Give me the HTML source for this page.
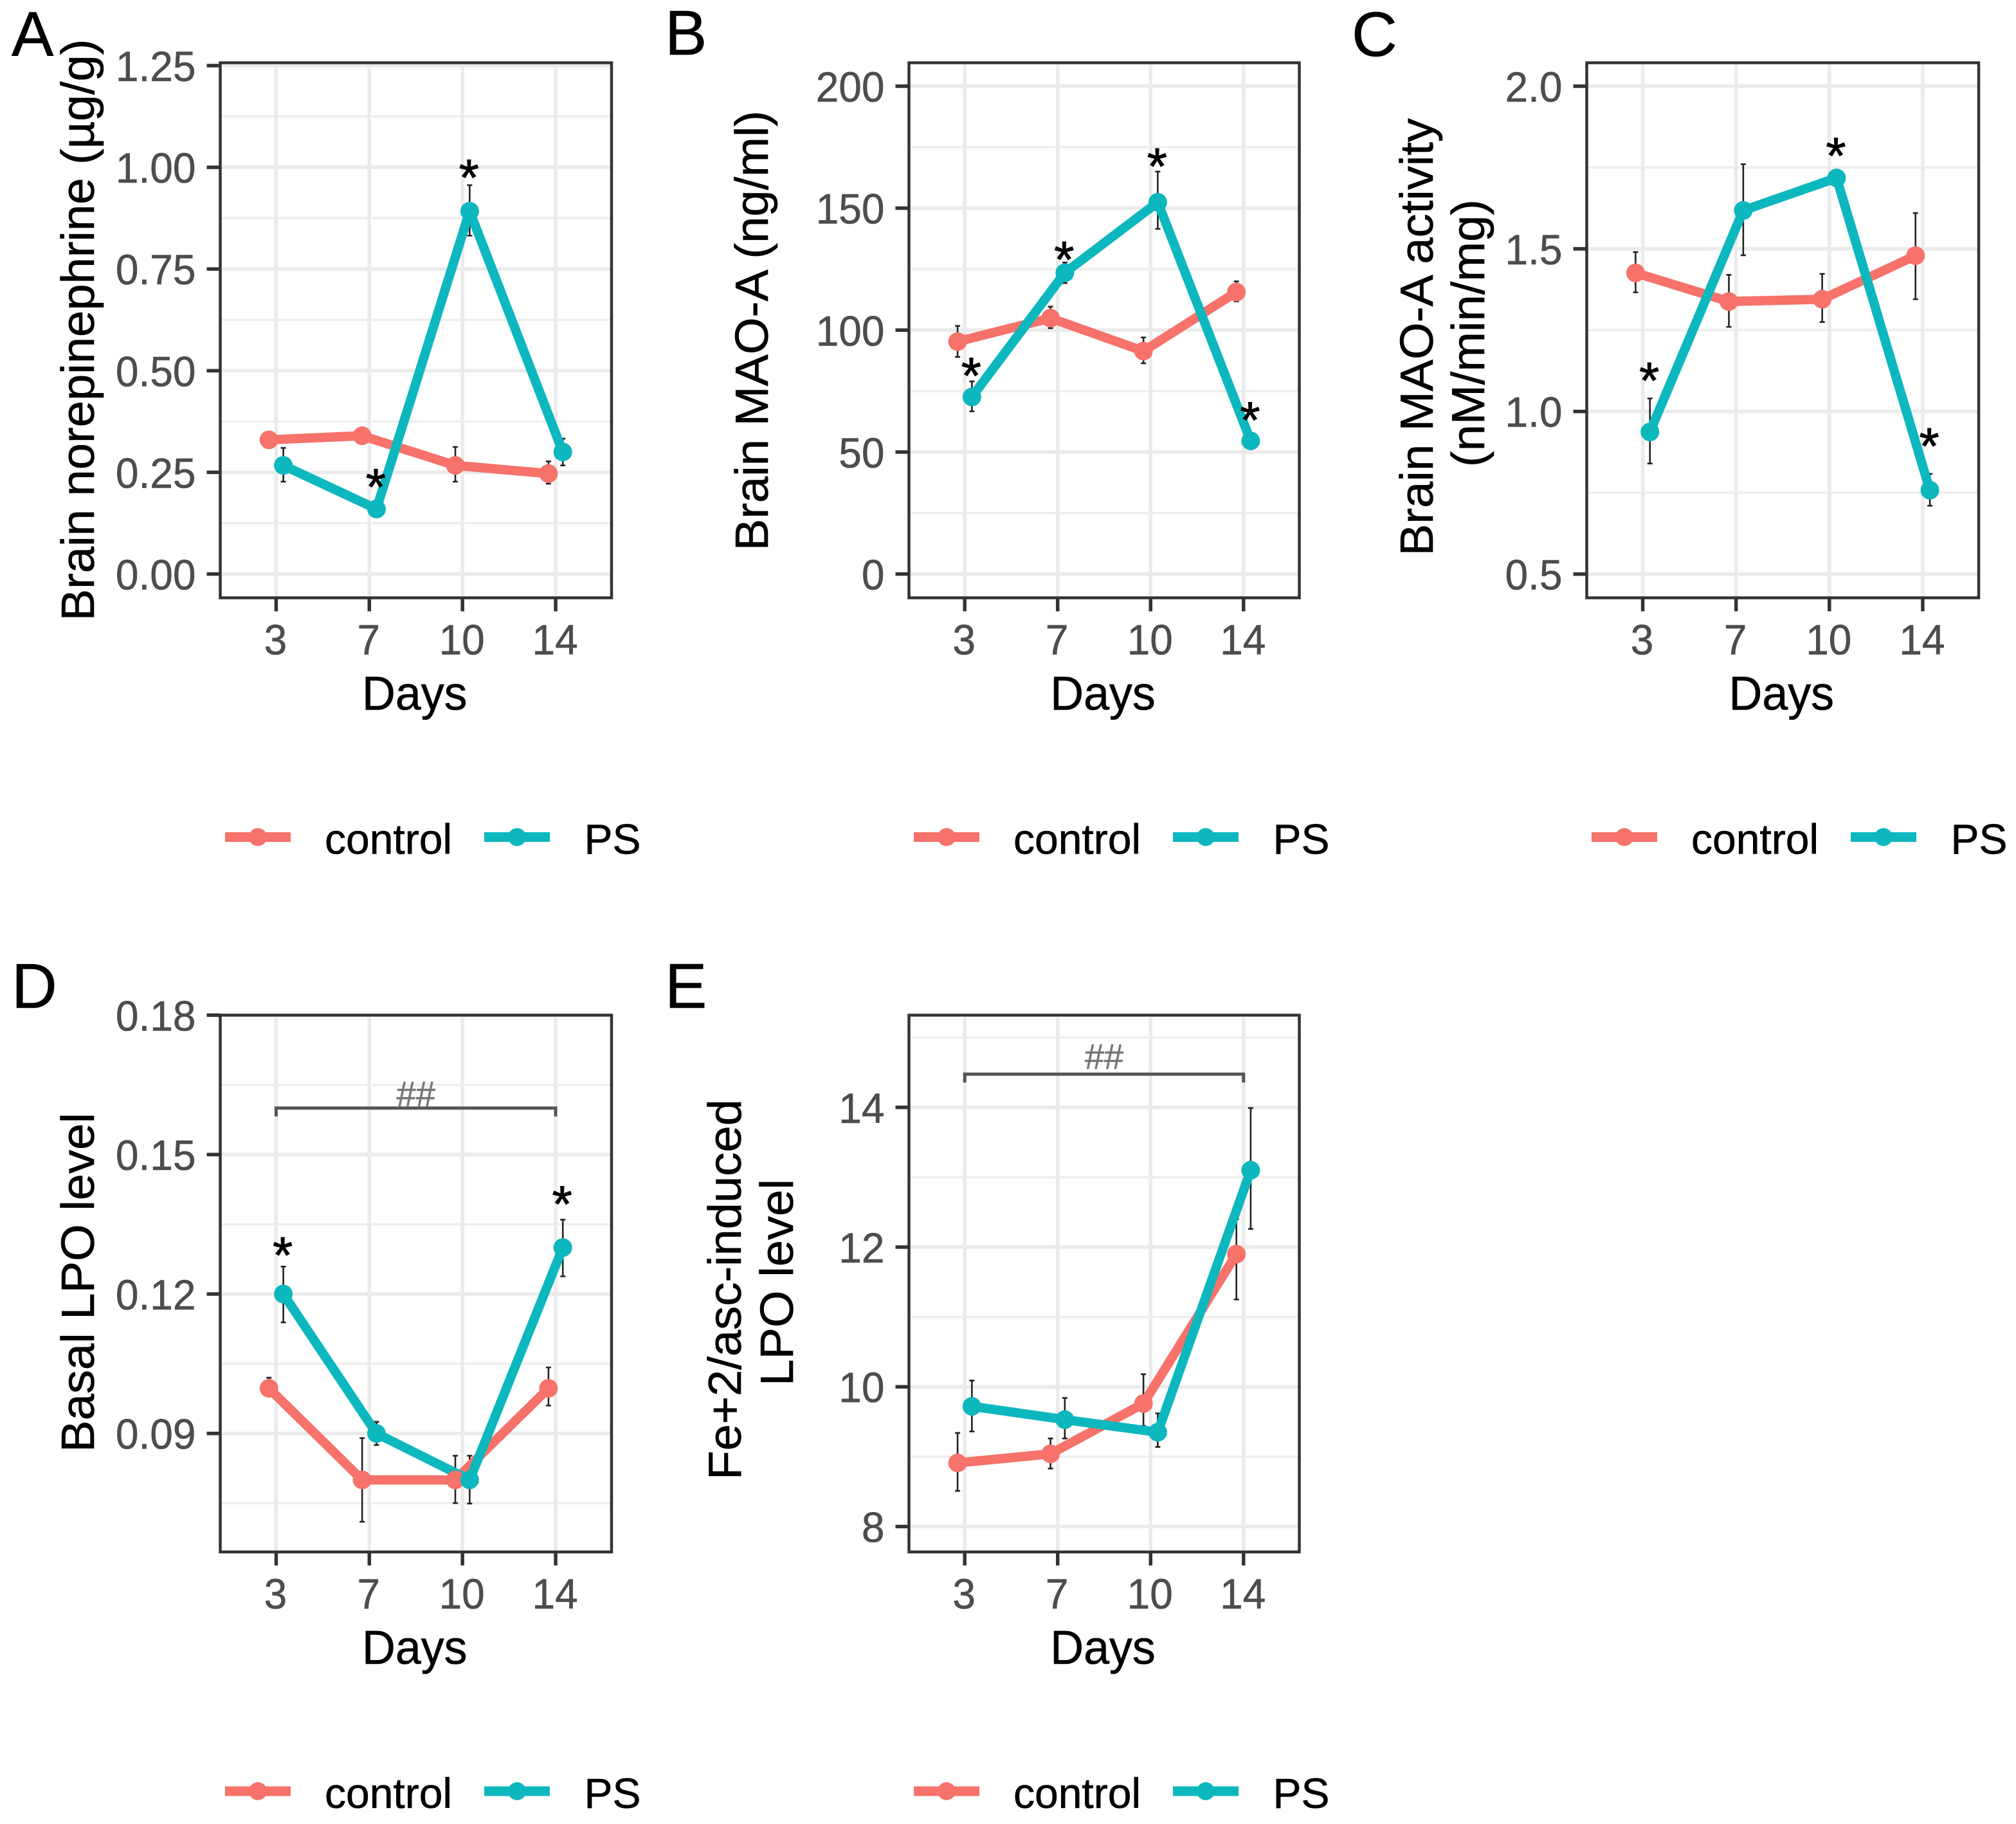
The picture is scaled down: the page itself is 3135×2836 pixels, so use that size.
<!DOCTYPE html>
<html lang="en">
<head>
<meta charset="utf-8">
<title>Brain neurochemistry panels</title>
<style>
html,body{margin:0;padding:0;background:#fff;}
#figure{display:block;width:3135px;height:2836px;font-family:"Liberation Sans",Arial,sans-serif;}
</style>
</head>
<body>
<svg id="figure" xmlns="http://www.w3.org/2000/svg" width="3135" height="2836" viewBox="0 0 3135 2836"></svg>
<script>
// ---------- shared data ----------
const categories = ['3', '7', '10', '14'];
const seriesNames = ['control', 'PS'];

// ---------- panel A ----------
const aControl = [0.33, 0.34, 0.267, 0.247];
const aControlLow = [0.325, 0.32, 0.227, 0.222];
const aControlHigh = [0.335, 0.36, 0.3125, 0.277];
const aPS = [0.267, 0.16, 0.892, 0.30];
const aPSLow = [0.227, 0.15, 0.832, 0.267];
const aPSHigh = [0.31, 0.17, 0.956, 0.333];
const aTicks = [0, 0.25, 0.5, 0.75, 1, 1.25];
const aTickLabels = ['0.00', '0.25', '0.50', '0.75', '1.00', '1.25'];
const aMinorTicks = [0.125, 0.375, 0.625, 0.875, 1.125];
const aStarDays = [1, 2];
const aStarValues = [0.237, 0.998];

// ---------- panel B ----------
const bControl = [95.3, 104.9, 91.4, 115.6];
const bControlLow = [89, 100.8, 86.4, 111.8];
const bControlHigh = [101.7, 109.6, 97, 120];
const bPS = [72.6, 123.5, 152.4, 54.6];
const bPSLow = [66.7, 119.3, 141.5, 53.5];
const bPSHigh = [79, 127.7, 165, 55.7];
const bTicks = [0, 50, 100, 150, 200];
const bTickLabels = ['0', '50', '100', '150', '200'];
const bMinorTicks = [25, 75, 125, 175];
const bStarDays = [0, 1, 2, 3];
const bStarValues = [85.2, 132.8, 171, 67];

// ---------- panel C ----------
const cControl = [1.426, 1.338, 1.345, 1.479];
const cControlLow = [1.366, 1.26, 1.275, 1.345];
const cControlHigh = [1.49, 1.42, 1.423, 1.61];
const cPS = [0.937, 1.618, 1.718, 0.758];
const cPSLow = [0.84, 1.48, 1.71, 0.71];
const cPSHigh = [1.04, 1.76, 1.726, 0.808];
const cTicks = [0.5, 1, 1.5, 2];
const cTickLabels = ['0.5', '1.0', '1.5', '2.0'];
const cMinorTicks = [0.75, 1.25, 1.75];
const cStarDays = [0, 2, 3];
const cStarValues = [1.124, 1.815, 0.922];

// ---------- panel D ----------
const dControl = [0.0997, 0.08, 0.08, 0.0997];
const dControlLow = [0.098, 0.071, 0.075, 0.096];
const dControlHigh = [0.102, 0.089, 0.0852, 0.1042];
const dPS = [0.12, 0.09, 0.08, 0.13];
const dPSLow = [0.1139, 0.0875, 0.0749, 0.1238];
const dPSHigh = [0.1259, 0.0925, 0.0852, 0.136];
const dTicks = [0.09, 0.12, 0.15, 0.18];
const dTickLabels = ['0.09', '0.12', '0.15', '0.18'];
const dMinorTicks = [0.075, 0.105, 0.135, 0.165];
const dStarDays = [0, 3];
const dStarValues = [0.1304, 0.1414];
const dBracketValue = [0.16];

// ---------- panel E ----------
const eControl = [8.91, 9.04, 9.76, 11.9];
const eControlLow = [8.51, 8.83, 9.44, 11.25];
const eControlHigh = [9.34, 9.26, 10.18, 12.4];
const ePS = [9.72, 9.53, 9.35, 13.1];
const ePSLow = [9.36, 9.26, 9.14, 12.26];
const ePSHigh = [10.09, 9.84, 9.62, 13.99];
const eTicks = [8, 10, 12, 14];
const eTickLabels = ['8', '10', '12', '14'];
const eMinorTicks = [9, 11, 13, 15];
const eStarDays = [];
const eStarValues = [];
const eBracketValue = [14.475];

// ---------- layout ----------
const panels = [
  {id:'a', letter:'A', letterX:18, letterY:87, left:342.5, right:951, top:97.6, bottom:929.5, yMin:-0.0585, yMax:1.257,
   control:aControl, controlLow:aControlLow, controlHigh:aControlHigh, ps:aPS, psLow:aPSLow, psHigh:aPSHigh,
   ticks:aTicks, tickLabels:aTickLabels, minor:aMinorTicks, starDays:aStarDays, starValues:aStarValues, bracket:null, hashGap:0,
   titles:[{text:'Brain norepinephrine (µg/g)', x:146, y:513}]},
  {id:'b', letter:'B', letterX:1034, letterY:85, left:1413.5, right:2020.5, top:97.6, bottom:929.5, yMin:-9.75, yMax:209.6,
   control:bControl, controlLow:bControlLow, controlHigh:bControlHigh, ps:bPS, psLow:bPSLow, psHigh:bPSHigh,
   ticks:bTicks, tickLabels:bTickLabels, minor:bMinorTicks, starDays:bStarDays, starValues:bStarValues, bracket:null, hashGap:0,
   titles:[{text:'Brain MAO-A (ng/ml)', x:1194, y:514}]},
  {id:'c', letter:'C', letterX:2102, letterY:87, left:2467.5, right:3077, top:97.6, bottom:929.5, yMin:0.427, yMax:2.072,
   control:cControl, controlLow:cControlLow, controlHigh:cControlHigh, ps:cPS, psLow:cPSLow, psHigh:cPSHigh,
   ticks:cTicks, tickLabels:cTickLabels, minor:cMinorTicks, starDays:cStarDays, starValues:cStarValues, bracket:null, hashGap:0,
   titles:[{text:'Brain MAO-A activity', x:2228, y:524},{text:'(nM/min/mg)', x:2308, y:518}]},
  {id:'d', letter:'D', letterX:18, letterY:1567, left:342.5, right:951, top:1578.4, bottom:2413, yMin:0.0645, yMax:0.18,
   control:dControl, controlLow:dControlLow, controlHigh:dControlHigh, ps:dPS, psLow:dPSLow, psHigh:dPSHigh,
   ticks:dTicks, tickLabels:dTickLabels, minor:dMinorTicks, starDays:dStarDays, starValues:dStarValues, bracket:dBracketValue, hashGap:3,
   titles:[{text:'Basal LPO level', x:146, y:1994}]},
  {id:'e', letter:'E', letterX:1034, letterY:1567, left:1413.5, right:2020.5, top:1578.4, bottom:2413, yMin:7.636, yMax:15.32,
   control:eControl, controlLow:eControlLow, controlHigh:eControlHigh, ps:ePS, psLow:ePSLow, psHigh:ePSHigh,
   ticks:eTicks, tickLabels:eTickLabels, minor:eMinorTicks, starDays:eStarDays, starValues:eStarValues, bracket:eBracketValue, hashGap:8,
   titles:[{text:'Fe+2/asc-induced', x:1152, y:2005},{text:'LPO level', x:1233, y:1994}]}
];

const RED = '#f6726a';
const TEAL = '#0db7be';
const SVGNS = 'http://www.w3.org/2000/svg';
const root = document.getElementById('figure');

function make(parent, tag, attrs, text) {
  const el = document.createElementNS(SVGNS, tag);
  for (const k in attrs) el.setAttribute(k, attrs[k]);
  if (text !== undefined) el.textContent = text;
  parent.appendChild(el);
  return el;
}
function hText(parent, str, x, y, size, fill, anchor, sx) {
  return make(parent, 'text', {
    transform: 'translate(' + x + ' ' + y + ') scale(' + sx + ' 1)',
    'font-size': size, fill: fill, stroke: fill, 'stroke-width': 0.6, 'text-anchor': anchor
  }, str);
}

panels.forEach(function (p) {
  const g = make(root, 'g', {});
  
  

  const unit = (p.right - p.left) / 4.2;
  const xCat = function (i) { return p.left + (0.6 + i) * unit; };
  const DODGE = 0.077;
  const xControl = function (i) { return xCat(i) - DODGE * unit; };
  const xPS = function (i) { return xCat(i) + DODGE * unit; };
  const yScale = function (v) { return p.bottom - (v - p.yMin) / (p.yMax - p.yMin) * (p.bottom - p.top); };

  // panel label
  const letter = make(g, 'text', {x: p.letterX, y: p.letterY, 'font-size': 98, fill: '#000', stroke: '#000', 'stroke-width': 0.6}, p.letter);
  
  

  // grid
  p.minor.forEach(function (v) {
    const line = make(g, 'line', {x1: p.left, x2: p.right, y1: yScale(v), y2: yScale(v), stroke: '#eeeeee', 'stroke-width': 3.5});
    
    
  });
  p.ticks.forEach(function (v) {
    const line = make(g, 'line', {x1: p.left, x2: p.right, y1: yScale(v), y2: yScale(v), stroke: '#ebebeb', 'stroke-width': 5.5});
    
    
  });
  categories.forEach(function (c, i) {
    const line = make(g, 'line', {x1: xCat(i), x2: xCat(i), y1: p.top, y2: p.bottom, stroke: '#ebebeb', 'stroke-width': 5.5});
    
    
  });

  // bracket
  if (p.bracket) {
    const by = yScale(p.bracket[0]);
    const bx1 = xCat(0);
    const bx2 = xCat(3);
    const bracket = make(g, 'path', {d: 'M' + bx1 + ' ' + (by + 13) + 'V' + by + 'H' + bx2 + 'V' + (by + 13), fill: 'none', stroke: '#555555', 'stroke-width': 5});
    
    
    const hash = hText(g, '##', (bx1 + bx2) / 2, by - p.hashGap, 56, '#777777', 'middle', 0.97);
    
    
  }

  // error bars
  [[p.controlLow, p.controlHigh, xControl, 'control'], [p.psLow, p.psHigh, xPS, 'ps']].forEach(function (s) {
    s[0].forEach(function (low, i) {
      const x = s[2](i);
      const yl = yScale(low);
      const yh = yScale(s[1][i]);
      const bar = make(g, 'path', {
        d: 'M' + x + ' ' + yl + 'V' + yh + 'M' + (x - 4) + ' ' + yl + 'H' + (x + 4) + 'M' + (x - 4) + ' ' + yh + 'H' + (x + 4),
        fill: 'none', stroke: '#222222', 'stroke-width': 2.6
      });
      
      
    });
  });

  // series
  [[p.control, xControl, RED, 'control'], [p.ps, xPS, TEAL, 'ps']].forEach(function (s) {
    const pts = s[0].map(function (v, i) { return s[1](i) + ',' + yScale(v); }).join(' ');
    const line = make(g, 'polyline', {points: pts, fill: 'none', stroke: s[2], 'stroke-width': 14.5, 'stroke-linejoin': 'round'});
    
    
  });
  [[p.control, xControl, RED, 'control'], [p.ps, xPS, TEAL, 'ps']].forEach(function (s) {
    s[0].forEach(function (v, i) {
      const pt = make(g, 'circle', {cx: s[1](i), cy: yScale(v), r: 14.5, fill: s[2]});
      
      
    });
  });

  // asterisks
  p.starDays.forEach(function (d, i) {
    const star = make(g, 'text', {x: xPS(d) - 1, y: yScale(p.starValues[i]) + 42, 'font-size': 80, fill: '#000', stroke: '#000', 'stroke-width': 1, 'text-anchor': 'middle'}, '*');
    
    
  });

  // border
  const border = make(g, 'rect', {x: p.left, y: p.top, width: p.right - p.left, height: p.bottom - p.top, fill: 'none', stroke: '#333333', 'stroke-width': 4.5});
  
  

  // y axis
  p.ticks.forEach(function (v, i) {
    const tick = make(g, 'line', {x1: p.left - 21, x2: p.left, y1: yScale(v), y2: yScale(v), stroke: '#333333', 'stroke-width': 5.5});
    
    
    const label = hText(g, p.tickLabels[i], p.left - 38, yScale(v) + 24, 66, '#4d4d4d', 'end', 0.97);
    
    
  });

  // x axis
  categories.forEach(function (c, i) {
    const tick = make(g, 'line', {x1: xCat(i), x2: xCat(i), y1: p.bottom, y2: p.bottom + 21, stroke: '#333333', 'stroke-width': 5.5});
    
    
    const label = hText(g, c, xCat(i) - 1, p.bottom + 88, 66, '#4d4d4d', 'middle', 0.97);
    
    
  });
  const xTitle = hText(g, 'Days', (p.left + p.right) / 2 - 2, p.bottom + 174, 74, '#000', 'middle', 0.97);
  
  

  // y title
  p.titles.forEach(function (t) {
    const title = make(g, 'text', {
      transform: 'translate(' + t.x + ' ' + t.y + ') rotate(-90) scale(1 0.97)',
      'font-size': 74.2, fill: '#000', stroke: '#000', 'stroke-width': 0.6, 'text-anchor': 'middle'
    }, t.text);
    
    
  });

  // legend
  const legendY = p.bottom + 372;
  const legendBase = p.bottom + 398;
  const legend = make(g, 'g', {});
  
  
  [[7.5, 162.5, RED], [410.5, 566, TEAL]].forEach(function (e, i) {
    const entry = make(legend, 'g', {});
    
    
    const key = make(entry, 'line', {x1: p.left + e[0], x2: p.left + e[0] + 102, y1: legendY, y2: legendY, stroke: e[2], 'stroke-width': 15});
    
    
    const dot = make(entry, 'circle', {cx: p.left + e[0] + 51, cy: legendY, r: 14, fill: e[2]});
    
    
    const txt = hText(entry, seriesNames[i], p.left + e[1], legendBase, 66, '#000', 'start', 1);
    
    
  });
});
</script>
</body>
</html>
